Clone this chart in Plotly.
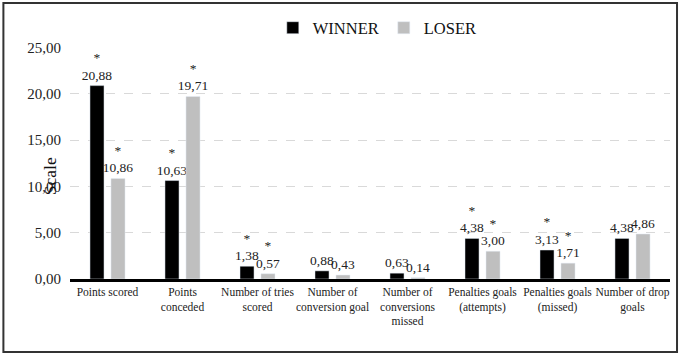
import plotly.graph_objects as go

categories = ["Points scored", "Points<br>conceded", "Number of tries<br>scored",
              "Number of<br>conversion goal", "Number of<br>conversions<br>missed",
              "Penalties goals<br>(attempts)", "Penalties goals<br>(missed)",
              "Number of drop<br>goals"]
winner = [20.88, 10.63, 1.38, 0.88, 0.63, 4.38, 3.13, 4.38]
loser = [10.86, 19.71, 0.57, 0.43, 0.14, 3.00, 1.71, 4.86]
winner_sig = [True, True, True, False, False, True, True, False]
loser_sig = [True, True, True, False, False, True, True, False]
tick_vals = [0, 5, 10, 15, 20, 25]
tick_text = ["0,00", "5,00", "10,00", "15,00", "20,00", "25,00"]

FONT = "Liberation Serif, Times New Roman, serif"

def fmt(v, sig):
    s = f"{v:.2f}".replace(".", ",")
    return ("*<br>" + s) if sig else s

fig = go.Figure()
for name, vals, sig, col in [("WINNER", winner, winner_sig, "#000000"),
                             ("LOSER", loser, loser_sig, "#bfbfbf")]:
    fig.add_trace(go.Bar(
        x=categories, y=vals, name=name, marker_color=col,
        text=[fmt(v, s) for v, s in zip(vals, sig)],
        textposition="outside", cliponaxis=False, constraintext="none",
        textangle=0,
        textfont=dict(family=FONT, size=13.5, color="#222222"),
        outsidetextfont=dict(family=FONT, size=13.5, color="#222222"),
    ))

fig.update_layout(
    width=680, height=355,
    margin=dict(l=70, r=10, t=47, b=76, autoexpand=False),
    paper_bgcolor="white", plot_bgcolor="white",
    font=dict(family=FONT, size=13, color="#222222"),
    barmode="group", bargap=0.44, bargroupgap=0.33,
    uniformtext=dict(mode=False),
    showlegend=True,
    legend=dict(orientation="h", x=0.338, y=1.082, xanchor="left", yanchor="middle",
                font=dict(family=FONT, size=16.5, color="#111111"),
                itemwidth=30, traceorder="normal"),
    xaxis=dict(showline=True, linecolor="black", linewidth=2.5, ticks="",
               tickangle=0, automargin=False,
               tickfont=dict(family=FONT, size=11.5, color="#222222"),
               showgrid=False),
    yaxis=dict(range=[0, 25.05], tickvals=tick_vals, ticktext=tick_text,
               automargin=False,
               showgrid=True, gridcolor="#d9d9d9", griddash="dash", gridwidth=1,
               zeroline=False, showline=False,
               tickfont=dict(family=FONT, size=15, color="#222222"),
               ticklabelstandoff=8),
    annotations=[dict(text="Scale", xref="paper", yref="paper", x=-0.053, y=0.444,
                      textangle=-90, showarrow=False,
                      font=dict(family=FONT, size=17.5, color="#111111"))],
    shapes=[dict(type="rect", xref="paper", yref="paper",
                 x0=-0.111, x1=1.0117, y0=-0.3147, y1=1.19,
                 line=dict(color="#333333", width=2))],
)

fig.write_html("out.html", config={"displayModeBar": False},
               post_script="document.body.style.margin='0';")
